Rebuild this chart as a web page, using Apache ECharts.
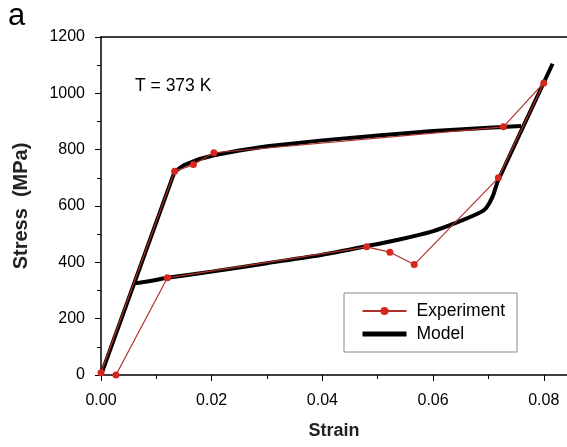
<!DOCTYPE html>
<html>
<head>
<meta charset="utf-8">
<title></title>
<script type="text/javascript" src="https://cdn.jsdelivr.net/npm/echarts@6/dist/echarts.min.js"></script>
<style>
  body { margin: 0; background: #fff; }
</style>
</head>
<body>
<div id="stress_strain" style="width:567px;height:447px;"></div>
<script type="text/javascript">
// experiment (strain, stress in MPa), in loading order
var expStrain = [0.0, 0.0133, 0.0167, 0.0204, 0.0727, 0.0800, 0.0718, 0.0566, 0.0522, 0.0480, 0.0120, 0.0027];
var expStress = [8, 723, 747, 789, 881, 1037, 700, 392, 436, 455, 345, 0];

// model loading branch
var loadStrain = [0.0, 0.0133, 0.0150, 0.0175, 0.0204, 0.0250, 0.0300, 0.0400, 0.0500, 0.0600, 0.0700, 0.0759];
var loadStress = [0, 722, 745, 765, 780, 797, 812, 833, 850, 866, 878, 884];

// model unloading branch
var unloadStrain = [0.0816, 0.0717, 0.0708, 0.0696, 0.0684, 0.0641, 0.0599, 0.0539, 0.0479, 0.0400, 0.0300, 0.0200, 0.0120, 0.0064, 0.0060];
var unloadStress = [1105, 688, 635, 593, 576, 540, 510, 481, 457, 427, 397, 367, 345, 327, 327];

var xTicks = [0, 0.02, 0.04, 0.06, 0.08];

function pairs(xs, ys) {
  var list = [];
  for (var i = 0; i < xs.length; i++) {
    list.push([xs[i], ys[i]]);
  }
  return list;
}

var chart = echarts.init(document.getElementById('stress_strain'));
var font = 'Liberation Sans, Arial, sans-serif';

var option = {
  animation: false,
  grid: { left: 101, top: 37, right: 0, bottom: 72 },
  legend: {
    data: [
      { name: 'Experiment' },
      { name: 'Model', itemStyle: { opacity: 0 }, lineStyle: { width: 5, color: '#000' } }
    ],
    orient: 'vertical',
    left: 344,
    top: 293,
    padding: [9, 12, 9, 16],
    itemGap: 5,
    itemWidth: 44,
    itemHeight: 10,
    borderColor: '#888',
    borderWidth: 1,
    textStyle: { fontFamily: font, fontSize: 17.5, color: '#000', padding: [0, 0, 0, 5] }
  },
  xAxis: [
    {
      type: 'value',
      min: 0,
      max: 0.0842,
      interval: 0.02,
      name: 'Strain',
      nameLocation: 'middle',
      nameGap: 47,
      nameTextStyle: { fontFamily: font, fontSize: 18, fontWeight: 'bold', color: '#222' },
      axisLine: { lineStyle: { color: '#000', width: 1.5 } },
      axisTick: { inside: false, length: 6, lineStyle: { color: '#000' } },
      minorTick: { show: true, splitNumber: 2, length: 4, lineStyle: { color: '#000' } },
      splitLine: { show: false },
      axisLabel: {
        margin: 18,
        fontFamily: font,
        fontSize: 16,
        color: '#000',
        showMaxLabel: false,
        formatter: function (v) {
          for (var i = 0; i < xTicks.length; i++) {
            if (Math.abs(v - xTicks[i]) < 1e-6) return v.toFixed(2);
          }
          return '';
        }
      }
    },
    {
      type: 'value',
      position: 'top',
      min: 0,
      max: 0.0842,
      axisLine: { lineStyle: { color: '#000', width: 1.5 } },
      axisTick: { show: false },
      axisLabel: { show: false },
      splitLine: { show: false }
    }
  ],
  yAxis: {
    type: 'value',
    min: 0,
    max: 1200,
    interval: 200,
    name: 'Stress  (MPa)',
    nameLocation: 'middle',
    nameGap: 70,
    nameRotate: 90,
    nameTextStyle: { fontFamily: font, fontSize: 20, fontWeight: 'bold', color: '#222' },
    axisLine: { show: true, lineStyle: { color: '#000', width: 1.5 } },
    axisTick: { show: true, inside: false, length: 6, lineStyle: { color: '#000' } },
    minorTick: { show: true, splitNumber: 2, length: 4, lineStyle: { color: '#000' } },
    splitLine: { show: false },
    axisLabel: {
      margin: 16,
      fontFamily: font,
      fontSize: 16,
      color: '#000',
      formatter: function (v) { return String(v); }
    }
  },
  graphic: [
    { type: 'text', left: 8, top: 1, style: { text: 'a', font: '31px Liberation Sans, Arial, sans-serif', fill: '#000' } },
    { type: 'text', left: 135, top: 77, style: { text: 'T = 373 K', font: '17.5px Liberation Sans, Arial, sans-serif', fill: '#000' } }
  ],
  series: [
    {
      name: 'Model',
      type: 'line',
      data: pairs(loadStrain, loadStress),
      symbol: 'none',
      lineStyle: { color: '#000', width: 4 },
      itemStyle: { color: '#000' },
      z: 2
    },
    {
      name: 'Model',
      type: 'line',
      data: pairs(unloadStrain, unloadStress),
      symbol: 'none',
      smooth: 0.2,
      lineStyle: { color: '#000', width: 4 },
      itemStyle: { color: '#000' },
      z: 2
    },
    {
      name: 'Experiment',
      type: 'line',
      data: pairs(expStrain, expStress),
      symbol: 'circle',
      symbolSize: 7,
      lineStyle: { color: '#b0302a', width: 1.2 },
      itemStyle: { color: '#d7261e' },
      z: 3
    }
  ]
};

chart.setOption(option);
</script>
</body>
</html>
